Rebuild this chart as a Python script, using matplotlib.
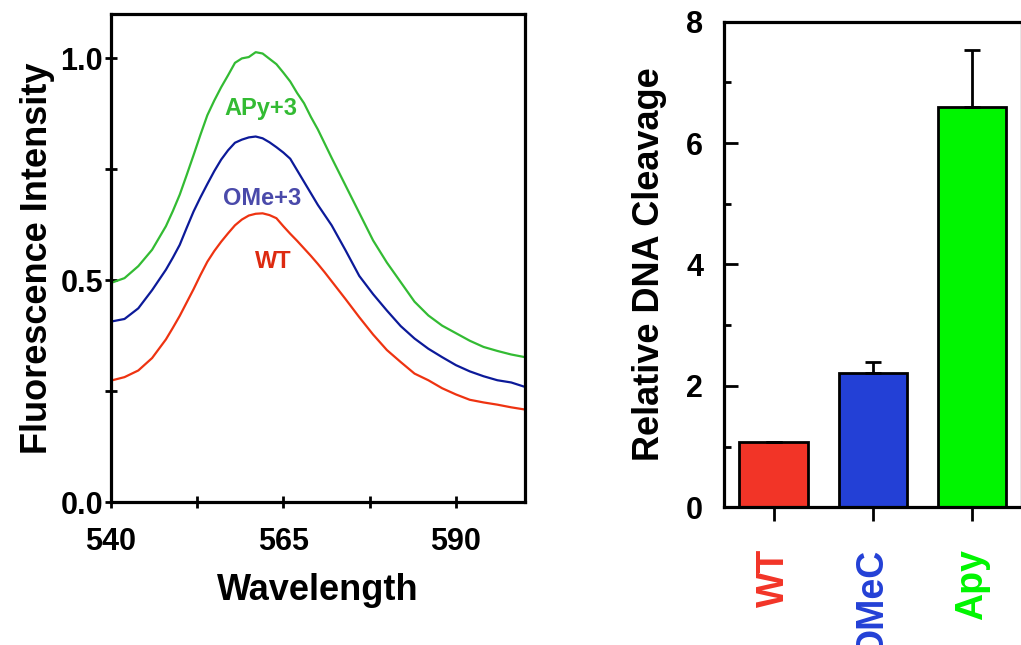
import matplotlib
matplotlib.use("Agg")
import matplotlib.pyplot as plt
from matplotlib.ticker import MultipleLocator, FixedLocator

plt.rcParams['font.family'] = ['Liberation Sans', 'DejaVu Sans']
plt.rcParams['font.weight'] = 'bold'

# fluorescence spectra
wavelength = [540, 542, 544, 546, 548, 549, 550, 551, 552, 553, 554, 555, 556, 557, 558, 559,
              560, 561, 562, 563, 564, 565, 566, 567, 568, 569, 570, 571, 572, 574, 576, 578,
              580, 582, 584, 586, 588, 590, 592, 594, 596, 598, 600]
apy_plus3 = [0.494, 0.505, 0.532, 0.569, 0.622, 0.656, 0.693, 0.737, 0.782, 0.828, 0.872, 0.905,
             0.935, 0.962, 0.990, 1.000, 1.003, 1.014, 1.011, 0.999, 0.987, 0.968, 0.948, 0.922,
             0.899, 0.868, 0.840, 0.808, 0.776, 0.714, 0.652, 0.590, 0.540, 0.496, 0.452, 0.421,
             0.398, 0.381, 0.364, 0.350, 0.341, 0.333, 0.327]
ome_plus3 = [0.407, 0.413, 0.437, 0.478, 0.524, 0.551, 0.580, 0.618, 0.655, 0.687, 0.717, 0.746,
             0.772, 0.793, 0.810, 0.817, 0.822, 0.824, 0.820, 0.811, 0.800, 0.788, 0.774, 0.748,
             0.722, 0.696, 0.670, 0.647, 0.624, 0.568, 0.510, 0.469, 0.432, 0.397, 0.369, 0.346,
             0.327, 0.309, 0.295, 0.284, 0.275, 0.270, 0.260]
wt = [0.274, 0.282, 0.297, 0.325, 0.367, 0.393, 0.420, 0.450, 0.480, 0.512, 0.542, 0.566,
      0.587, 0.606, 0.624, 0.637, 0.646, 0.650, 0.651, 0.647, 0.640, 0.622, 0.605, 0.589,
      0.572, 0.555, 0.537, 0.518, 0.498, 0.458, 0.417, 0.378, 0.343, 0.316, 0.290, 0.275,
      0.257, 0.243, 0.231, 0.225, 0.220, 0.214, 0.209]

# relative cleavage bars
bar_labels = ['WT', 'OMeC', 'Apy']
bar_values = [1.07, 2.21, 6.60]
bar_errors = [0.0, 0.19, 0.93]
bar_colors = ['#f23427', '#2340d6', '#00f500']

fig = plt.figure(figsize=(10.21, 6.45), dpi=100)

# left panel: spectra
ax1 = fig.add_axes([0.1084, 0.2212, 0.4058, 0.7571])
ax1.plot(wavelength, apy_plus3, color='#33bb33', lw=1.6)
ax1.plot(wavelength, ome_plus3, color='#0c1a99', lw=1.6)
ax1.plot(wavelength, wt, color='#ee3311', lw=1.6)
ax1.text(561.7, 0.886, 'APy+3', color='#33bb33', fontsize=17, fontweight='bold', ha='center', va='center')
ax1.text(562.0, 0.684, 'OMe+3', color='#4a4aaa', fontsize=17, fontweight='bold', ha='center', va='center')
ax1.text(563.6, 0.543, 'WT', color='#dd2a10', fontsize=17, fontweight='bold', ha='center', va='center')
ax1.set_xlim(540, 600)
ax1.set_ylim(0, 1.1)
ax1.set_xticks([540, 565, 590])
ax1.xaxis.set_minor_locator(FixedLocator([552.5, 577.5]))
ax1.set_yticks([0.0, 0.5, 1.0])
ax1.set_yticklabels(['0.0', '0.5', '1.0'])
ax1.yaxis.set_minor_locator(FixedLocator([0.25, 0.75]))
ax1.tick_params(which='both', direction='inout', width=2, length=9, labelsize=22)
ax1.tick_params(axis='y', pad=1)
ax1.tick_params(axis='x', pad=13)
ax1.set_xlabel('Wavelength', fontsize=26, fontweight='bold', labelpad=12)
ax1.set_ylabel('Fluorescence Intensity', fontsize=26, fontweight='bold', labelpad=4)
for s in ax1.spines.values():
    s.set_linewidth(2.3)

# right panel: bars
ax2 = fig.add_axes([0.7091, 0.2135, 0.2917, 0.7529])
x = range(len(bar_labels))
ax2.bar(x, bar_values, width=0.69, color=bar_colors, edgecolor='black', linewidth=2,
        yerr=[[0, 0, 0], bar_errors], error_kw=dict(ecolor='black', elinewidth=2, capsize=6, capthick=2))
ax2.set_xlim(-0.5, 2.5)
ax2.set_ylim(0, 8)
ax2.set_xticks(list(x))
ax2.set_xticklabels(bar_labels, rotation=90, fontsize=27)
for lab, c in zip(ax2.get_xticklabels(), bar_colors):
    lab.set_color(c)
ax2.yaxis.set_major_locator(MultipleLocator(2))
ax2.yaxis.set_minor_locator(MultipleLocator(1))
ax2.tick_params(axis='y', which='both', direction='in', width=2, labelsize=22, pad=15)
ax2.tick_params(axis='y', which='major', length=10)
ax2.tick_params(axis='y', which='minor', length=5)
ax2.tick_params(axis='x', direction='out', length=10, width=2, pad=20)
ax2.set_ylabel('Relative DNA Cleavage', fontsize=26, fontweight='bold', labelpad=14)
for s in ax2.spines.values():
    s.set_linewidth(2.3)

fig.savefig('out.png', dpi=100)
